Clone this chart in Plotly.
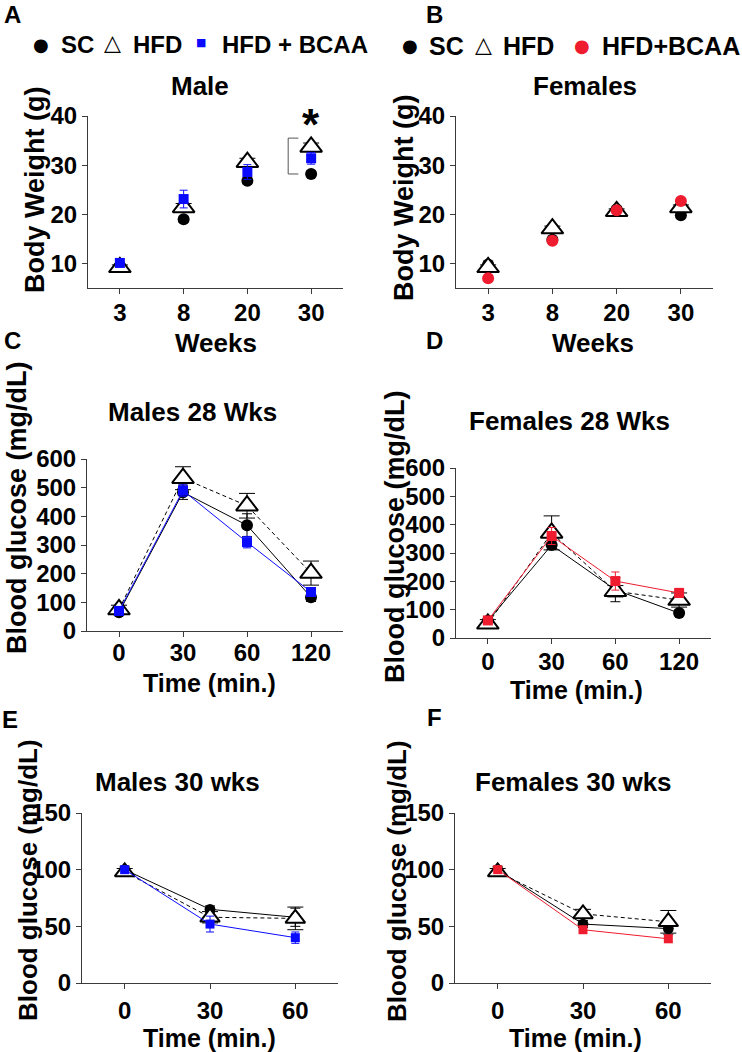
import plotly.graph_objects as go

FONT = "Liberation Sans, Arial, Helvetica, sans-serif"
SYMFONT = "DejaVu Sans"
W, H = 742, 1052
BLUE = "#0a0aff"
RED = "#ee1c2e"
AXC = "#3a3a3a"

# ---------------- data ----------------
weeks = ["3", "8", "20", "30"]
male_bw_sc = [9.5, 19.0, 26.8, 28.2]
male_bw_sc_err = [0.5, 0.6, 0.6, 0.6]
male_bw_hfd = [9.2, 21.4, 30.6, 33.7]
male_bw_hfd_err = [0.5, 0.8, 0.8, 0.8]
male_bw_bcaa = [10.1, 23.1, 28.6, 31.4]
male_bw_bcaa_err = [0.8, 1.8, 1.5, 1.2]

female_bw_sc = [9.8, 14.8, 21.0, 19.8]
female_bw_sc_err = [0.5, 0.5, 0.5, 0.5]
female_bw_hfd = [9.2, 17.1, 20.6, 21.4]
female_bw_hfd_err = [0.5, 0.5, 0.5, 0.5]
female_bw_bcaa = [7.0, 14.6, 20.8, 22.7]
female_bw_bcaa_err = [0.4, 0.4, 0.5, 0.5]

gtt_time = ["0", "30", "60", "120"]
male_gtt_sc = [65, 484, 369, 118]
male_gtt_sc_err = [10, 25, 40, 15]
male_gtt_hfd = [75, 533, 437, 202]
male_gtt_hfd_err = [15, 40, 43, 42]
male_gtt_bcaa = [70, 490, 310, 136]
male_gtt_bcaa_err = [10, 20, 20, 12]

female_gtt_sc = [60, 328, 170, 88]
female_gtt_sc_err = [10, 15, 42, 10]
female_gtt_hfd = [50, 371, 165, 134]
female_gtt_hfd_err = [15, 60, 20, 25]
female_gtt_bcaa = [62, 360, 201, 159]
female_gtt_bcaa_err = [8, 30, 32, 16]

itt_time = ["0", "30", "60"]
male_itt_sc = [100, 65, 58]
male_itt_sc_err = [3, 3, 8]
male_itt_hfd = [98, 58, 57]
male_itt_hfd_err = [3, 5, 10]
male_itt_bcaa = [100, 52, 40]
male_itt_bcaa_err = [2, 7, 5]

female_itt_sc = [100, 52, 48]
female_itt_sc_err = [3, 3, 5]
female_itt_hfd = [98, 61, 54]
female_itt_hfd_err = [3, 4, 10]
female_itt_bcaa = [100, 47, 39]
female_itt_bcaa_err = [2, 2, 3]


def px(x):
    return x / W


def py(y):
    return 1 - y / H


fig = go.Figure()


def add_group(n, x, sc, sc_e, hfd, hfd_e, bc, bc_e, bc_color, bc_symbol, mode, scale=1.0):
    xa = "x" if n == 1 else f"x{n}"
    ya = "y" if n == 1 else f"y{n}"
    fig.add_trace(go.Scatter(
        x=x, y=sc, mode=mode, xaxis=xa, yaxis=ya, showlegend=False,
        line=dict(color="black", width=1),
        marker=dict(symbol="circle", size=12 * scale, color="black"),
        error_y=dict(type="data", array=sc_e, color="black", thickness=1, width=5),
        cliponaxis=False))
    fig.add_trace(go.Scatter(
        x=x, y=hfd, mode=mode, xaxis=xa, yaxis=ya, showlegend=False,
        line=dict(color="black", width=1, dash="4px,3px"),
        marker=dict(symbol="triangle-up", size=19 * scale, color="white",
                    line=dict(color="black", width=2)),
        error_y=dict(type="data", array=hfd_e, color="black", thickness=1, width=8),
        cliponaxis=False))
    fig.add_trace(go.Scatter(
        x=x, y=bc, mode=mode, xaxis=xa, yaxis=ya, showlegend=False,
        line=dict(color=bc_color, width=1),
        marker=dict(symbol=bc_symbol, size=(12 if bc_symbol == "circle" else 10) * scale, color=bc_color),
        error_y=dict(type="data", array=bc_e, color=bc_color, thickness=1, width=4),
        cliponaxis=False))


add_group(1, weeks, male_bw_sc, male_bw_sc_err, male_bw_hfd, male_bw_hfd_err,
          male_bw_bcaa, male_bw_bcaa_err, BLUE, "square", "markers")
add_group(2, weeks, female_bw_sc, female_bw_sc_err, female_bw_hfd, female_bw_hfd_err,
          female_bw_bcaa, female_bw_bcaa_err, RED, "circle", "markers")
add_group(3, gtt_time, male_gtt_sc, male_gtt_sc_err, male_gtt_hfd, male_gtt_hfd_err,
          male_gtt_bcaa, male_gtt_bcaa_err, BLUE, "square", "lines+markers")
add_group(4, gtt_time, female_gtt_sc, female_gtt_sc_err, female_gtt_hfd, female_gtt_hfd_err,
          female_gtt_bcaa, female_gtt_bcaa_err, RED, "square", "lines+markers")
add_group(5, itt_time, male_itt_sc, male_itt_sc_err, male_itt_hfd, male_itt_hfd_err,
          male_itt_bcaa, male_itt_bcaa_err, BLUE, "square", "lines+markers", 0.9)
add_group(6, itt_time, female_itt_sc, female_itt_sc_err, female_itt_hfd, female_itt_hfd_err,
          female_itt_bcaa, female_itt_bcaa_err, RED, "square", "lines+markers", 0.9)

tickfont = dict(family=FONT, size=24, color="black", weight="bold")


def xaxis(x0, x1, n_cat, anchor, standoff):
    return dict(domain=[px(x0), px(x1)], type="category", range=[-0.5, n_cat - 0.5],
                anchor=anchor, showline=True, linecolor=AXC, linewidth=1,
                ticks="outside", ticklen=5, tickwidth=1, tickcolor=AXC,
                showgrid=False, zeroline=False, tickfont=tickfont, ticklabelstandoff=standoff,
                automargin=False)


def yaxis(y_top, y_bot, rng, dtick, anchor):
    return dict(domain=[py(y_bot), py(y_top)], range=rng, dtick=dtick, tick0=0,
                anchor=anchor, showline=True, linecolor=AXC, linewidth=1,
                ticks="outside", ticklen=5, tickwidth=1, tickcolor=AXC,
                showgrid=False, zeroline=False, tickfont=tickfont, automargin=False)


fig.update_layout(
    width=W, height=H, margin=dict(l=0, r=0, t=0, b=0, pad=0, autoexpand=False),
    paper_bgcolor="white", plot_bgcolor="white",
    font=dict(family=FONT, color="black"),
    showlegend=False,
    xaxis=xaxis(88, 343, 4, "y", -2), yaxis=yaxis(116, 288, [5, 40], 10, "x"),
    xaxis2=xaxis(456, 713, 4, "y2", -2), yaxis2=yaxis(116, 288, [5, 40], 10, "x2"),
    xaxis3=xaxis(87, 343, 4, "y3", -5), yaxis3=yaxis(459, 631, [0, 600], 100, "x3"),
    xaxis4=xaxis(456, 711, 4, "y4", -3), yaxis4=yaxis(468, 638, [0, 600], 100, "x4"),
    xaxis5=xaxis(82, 338, 3, "y5", 1), yaxis5=yaxis(813, 983, [0, 150], 50, "x5"),
    xaxis6=xaxis(455, 711, 3, "y6", 1), yaxis6=yaxis(813, 983, [0, 150], 50, "x6"),
)

ann = []


def text(t, x, y, size, xanchor="center", angle=0, color="black", family=FONT, weight="bold"):
    ann.append(dict(text=t, x=px(x), y=py(y), xref="paper", yref="paper",
                    xanchor=xanchor, yanchor="middle", showarrow=False, textangle=angle,
                    font=dict(family=family, size=size, color=color, weight=weight)))


# panel letters
for letter, x, y in [("A", 12, 15), ("B", 435, 15), ("C", 12, 340), ("D", 434, 340),
                     ("E", 10, 719), ("F", 434, 717)]:
    text(letter, x, y, 24)

# legend A
text("●", 41, 44, 18, family=SYMFONT, weight="normal")
text("SC", 59, 44, 24, xanchor="left")
text("△", 112, 43, 22, family=SYMFONT, weight="normal")
text("HFD", 131, 44, 24, xanchor="left")
text("■", 201, 43, 11, color=BLUE, family=SYMFONT, weight="normal")
text("HFD + BCAA", 220, 44, 24, xanchor="left")
# legend B
text("●", 410, 46, 18, family=SYMFONT, weight="normal")
text("SC", 427, 46, 25, xanchor="left")
text("△", 483, 45, 22, family=SYMFONT, weight="normal")
text("HFD", 501, 46, 25, xanchor="left")
text("●", 582, 46, 18, color=RED, family=SYMFONT, weight="normal")
text("HFD+BCAA", 600, 46, 25, xanchor="left")

# titles
text("Male", 200, 86, 26)
text("Females", 585, 86, 26)
text("Males 28 Wks", 192, 412, 26)
text("Females 28 Wks", 569, 421, 26)
text("Males 30 wks", 177, 782, 26)
text("Females 30 wks", 573, 782, 26)

# x titles
text("Weeks", 216, 343, 26)
text("Weeks", 593, 343, 26)
text("Time (min.)", 209, 683, 25)
text("Time (min.)", 576, 690, 25)
text("Time (min.)", 209, 1038, 25)
text("Time (min.)", 575, 1038, 25)

# y titles
text("Body Weight (g)", 35, 190, 27, angle=-90)
text("Body Weight (g)", 404, 198, 27, angle=-90)
text("Blood glucose (mg/dL)", 17, 508, 27, angle=-90)
text("Blood glucose (mg/dL)", 395, 537, 27, angle=-90)
text("Blood glucose (mg/dL)", 28, 880, 26, angle=-90)
text("Blood glucose (mg/dL)", 397, 881, 26, angle=-90)

# significance asterisk and bracket (panel A, week 30)
top = male_bw_hfd[3] + 1.8
bot = male_bw_sc[3]
ann.append(dict(text="*", x=3, y=top + 2.8, xref="x", yref="y", xanchor="center",
                yanchor="middle", showarrow=False,
                font=dict(family=FONT, size=44, color="black", weight="bold")))
fig.add_shape(type="path", xref="x", yref="y",
              path=f"M 2.8,{top} L 2.64,{top} L 2.64,{bot} L 2.8,{bot}",
              line=dict(color="#555555", width=1))

fig.update_layout(annotations=ann)
fig.write_html("out.html", config={"displayModeBar": False},
               post_script="document.body.style.margin='0px';")
